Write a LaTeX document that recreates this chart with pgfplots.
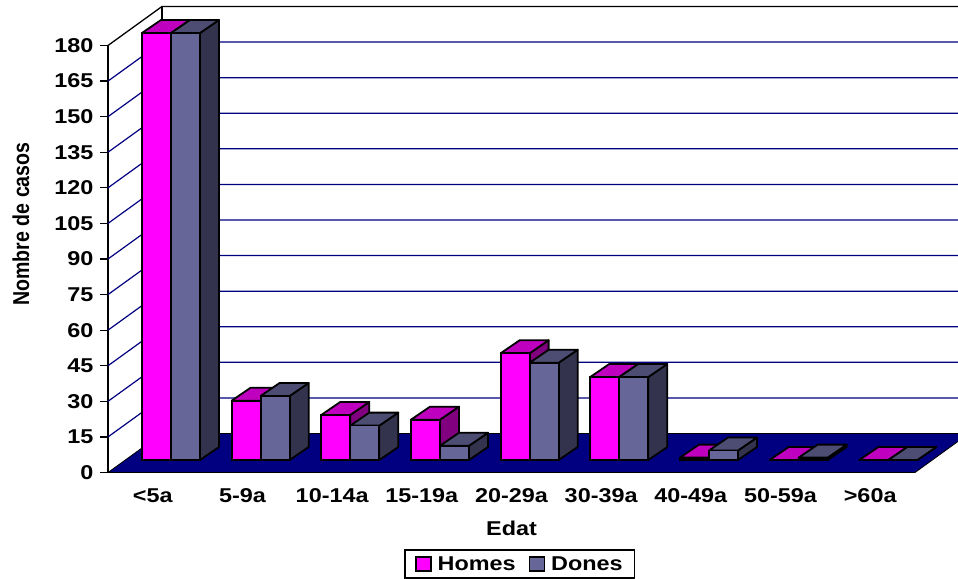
\documentclass[border=0pt]{standalone}
\usepackage{fontspec}
\usepackage{pgfplots}
\usepackage{pgfplotstable}
\pgfplotsset{compat=1.18}
\setmainfont{Liberation Sans}[FakeStretch=1.17]
\newfontfamily\rotfont{Liberation Sans}[FakeStretch=0.85]

\definecolor{rosa}{HTML}{FF00FF}
\definecolor{rosatop}{HTML}{BF00BF}
\definecolor{rosaside}{HTML}{800080}
\definecolor{lila}{HTML}{666699}
\definecolor{lilatop}{HTML}{4D4D73}
\definecolor{lilaside}{HTML}{33334D}
\definecolor{terra}{HTML}{000080}

\pgfplotstableread{
cat  homes dones
0.5  180   180
1.5  25    27
2.5  19    14.5
3.5  17    6
4.5  45    41
5.5  35    35
6.5  1     4
7.5  0     1
8.5  0     0
}\casos

% depth of the floor: 54px,39px in axis units; bars sit from 5.26 up
\def\px{0.6022}
\def\py{16.44}

% #1 row, #2 column, #3 offset in the category, #4 top colour, #5 side colour
\newcommand\caixa[5]{%
  \pgfplotstablegetelem{#1}{#2}\of\casos
  \pgfmathsetmacro\xa{#1+#3+0.3787}
  \pgfmathsetmacro\xb{\xa+0.3235}
  \pgfmathsetmacro\xc{\xb+0.212}
  \pgfmathsetmacro\xd{\xa+0.212}
  \pgfmathsetmacro\ya{\pgfplotsretval+5.26}
  \pgfmathsetmacro\yb{\ya+5.48}
  \edef\temp{\noexpand\addplot[forget plot,fill=#5,draw=black,line width=1.8bp,line join=round]
    coordinates {(\xb,5.26) (\xc,10.74) (\xc,\yb) (\xb,\ya)} -- cycle;
    \noexpand\addplot[forget plot,fill=#4,draw=black,line width=1.8bp,line join=round]
    coordinates {(\xa,\ya) (\xb,\ya) (\xc,\yb) (\xd,\yb)} -- cycle;}
  \temp
}

\begin{document}
\begin{tikzpicture}[x=1bp,y=1bp]
\path[use as bounding box] (0,0) rectangle (958,579);
\begin{axis}[
  at={(108bp,106.5bp)},anchor=south west,
  scale only axis,width=807bp,height=427bp,
  xmin=0,xmax=9,ymin=0,ymax=180,
  clip=false,
  axis x line*=bottom,axis y line*=left,
  axis line style={-,black,line width=1.3bp},
  xtick={0.5,1.5,...,8.5},
  xticklabels={{<5a},{5-9a},{10-14a},{15-19a},{20-29a},{30-39a},{40-49a},{50-59a},{>60a}},
  minor xtick={0,1,...,9},
  ytick={0,15,...,180},
  tick align=outside,
  x tick style={draw=none},
  y tick style={black,line width=1.3bp},
  minor x tick style={black,line width=1.3bp},
  major tick length=8bp,
  minor tick length=7bp,
  tick label style={font=\fontsize{20bp}{24bp}\selectfont\bfseries},
  /pgf/number format/assume math mode=true,
  x tick label style={anchor=center,yshift=-15bp,text height=14bp,text depth=0pt},
  y tick label style={anchor=east,xshift=-3bp},
  xlabel={Edat},ylabel={Nombre de casos},
  every axis x label/.style={at={(axis description cs:0.5,-0.131)},anchor=center,
    font=\fontsize{20bp}{24bp}\selectfont\bfseries},
  every axis y label/.style={at={(axis description cs:-0.108,0.582)},anchor=center,rotate=90,
    font=\fontsize{23bp}{26bp}\rotfont\selectfont\bfseries},
  legend style={at={(axis description cs:0.5105,-0.2143)},anchor=center,legend columns=2,
    draw=black,line width=1.5bp,fill=white,inner xsep=10bp,inner ysep=4.5bp,
    font=\fontsize{20bp}{24bp}\selectfont\bfseries,
    /tikz/every even column/.append style={column sep=11bp},
    /tikz/every odd column/.append style={column sep=4bp}},
  legend image code/.code={\draw[#1,line width=1.5bp] (0bp,-7bp) rectangle (15bp,7bp);},
]
% walls and grid
\foreach \v in {15,30,...,165} {
  \pgfmathsetmacro\w{\v+\py}
  \edef\temp{\noexpand\addplot[forget plot,color=terra,line width=1.2bp]
    coordinates {(0,\v) (\px,\w) (9.6022,\w)};}
  \temp
}
\addplot[forget plot,black,line width=1.3bp] coordinates {(0,180) (0.6022,196.44) (9.6022,196.44)};
\addplot[forget plot,black,line width=1.3bp] coordinates {(0.6022,196.44) (0.6022,16.44)};
% floor
\addplot[forget plot,fill=terra,draw=black,line width=0.8bp]
  coordinates {(0,0) (9,0) (9.6022,16.44) (0.6022,16.44)} -- cycle;

% Homes
\foreach \i in {0,...,8} {\caixa{\i}{homes}{0}{rosatop}{rosaside}}
\addplot[forget plot,ybar,bar width=29bp,bar shift=3.67bp,yshift=12.5bp,fill=rosa,draw=black,line width=1.8bp]
  table[x=cat,y=homes] {\casos};
% Dones
\foreach \i in {0,...,8} {\caixa{\i}{dones}{0.3235}{lilatop}{lilaside}}
\addplot[forget plot,ybar,bar width=29bp,bar shift=32.67bp,yshift=12.5bp,fill=lila,draw=black,line width=1.8bp]
  table[x=cat,y=dones] {\casos};

\addlegendimage{fill=rosa,draw=black}
\addlegendentry{Homes}
\addlegendimage{fill=lila,draw=black}
\addlegendentry{Dones}
\end{axis}
\end{tikzpicture}
\end{document}
